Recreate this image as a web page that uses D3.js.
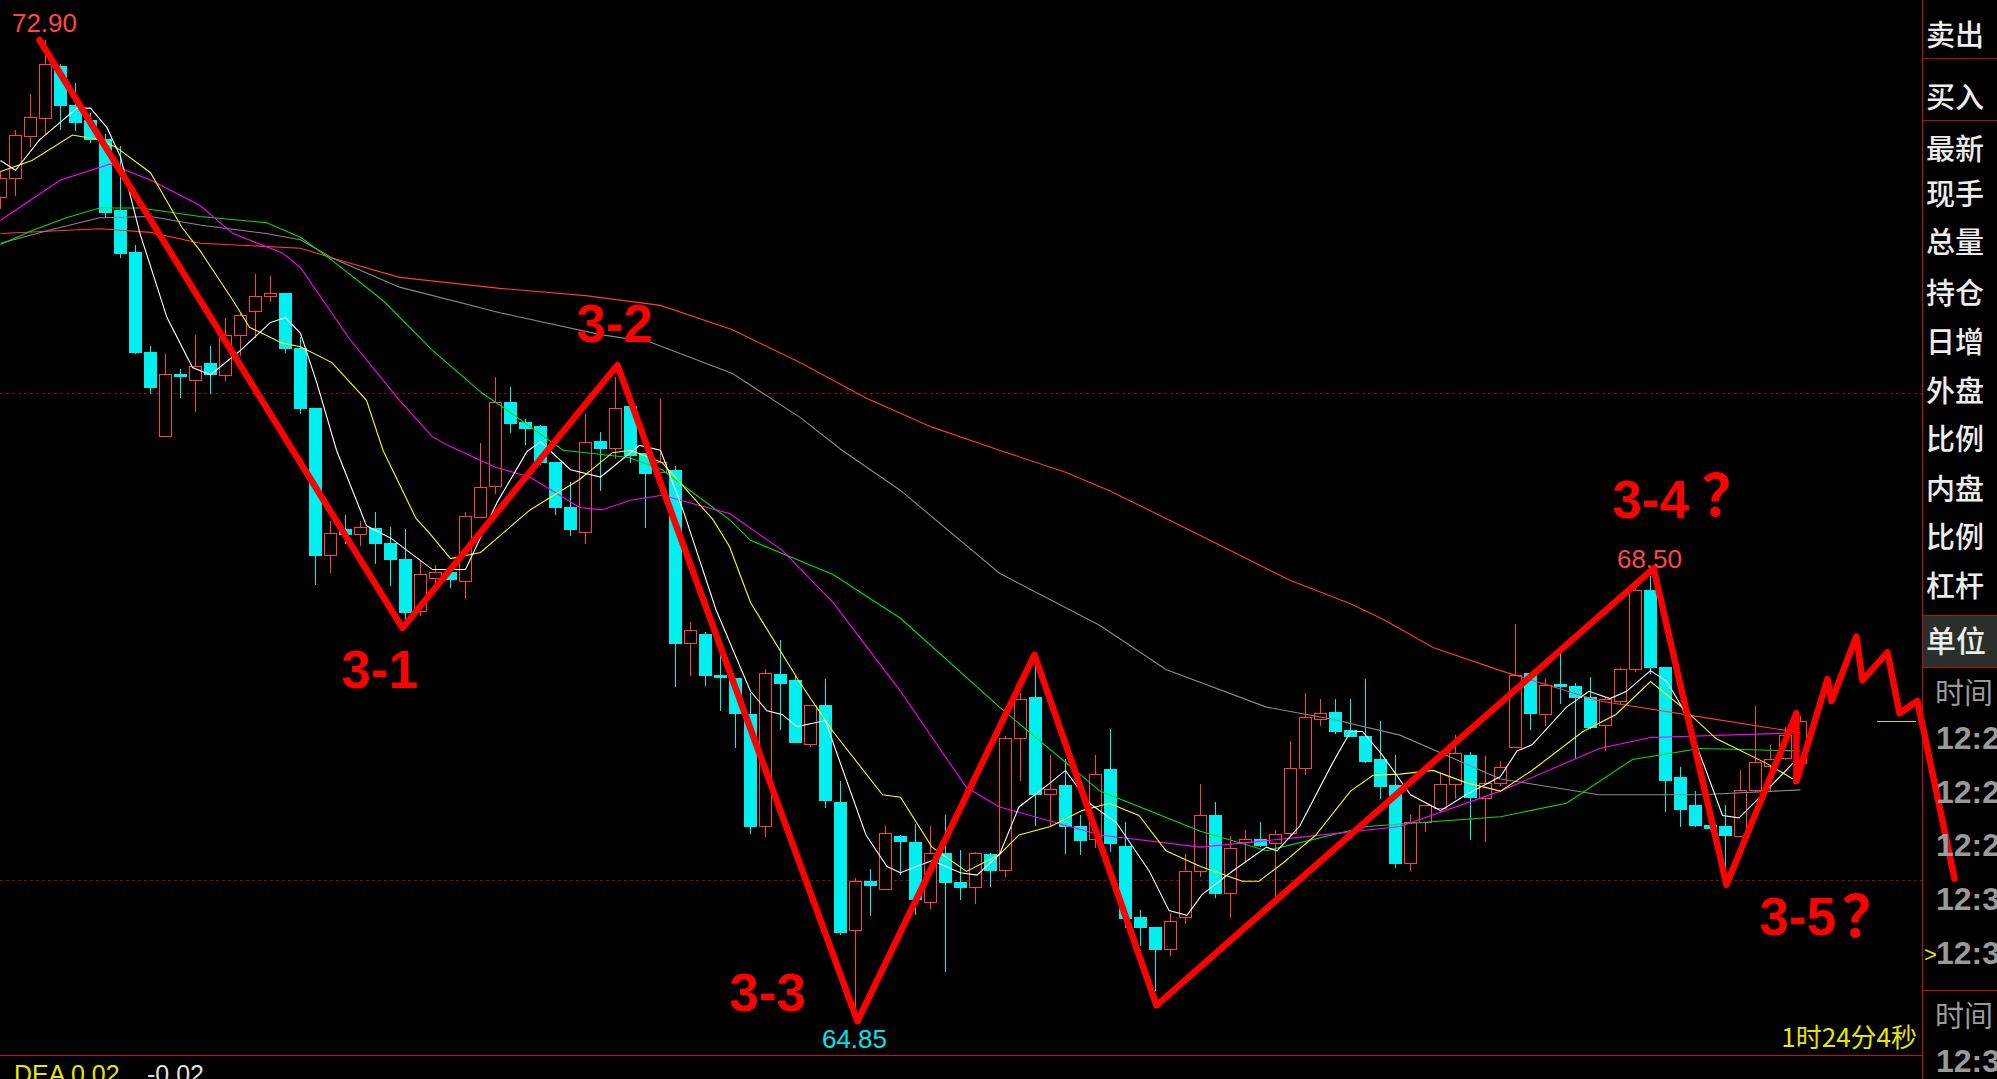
<!DOCTYPE html>
<html><head><meta charset="utf-8">
<script src="https://cdn.jsdelivr.net/npm/d3@7/dist/d3.min.js"></script>
<style>html,body{margin:0;padding:0;background:#000;overflow:hidden}</style>
</head><body>
<svg id="c" width="1997" height="1079" xmlns="http://www.w3.org/2000/svg"></svg>
<script>
// ---------------- DATA ----------------
const opens  = [71.61,71.77,72.11,72.26,72.69,72.37,72.24,72.09,71.50,71.16,70.34,69.65,70.16,70.11,70.25,70.15,70.48,70.67,70.80,70.82,
70.37,69.88,68.67,68.88,68.84,68.89,68.77,68.64,68.21,68.48,68.53,68.46,68.98,69.24,69.93,69.76,69.73,69.43,69.06,68.86,
69.61,69.55,69.89,69.51,69.35,69.37,67.95,68.02,67.68,67.66,67.36,66.44,67.69,67.64,67.12,67.44,66.64,65.59,65.99,65.93,
66.36,66.31,65.82,66.22,65.98,65.94,66.21,66.08,67.17,67.50,66.71,66.78,66.44,66.34,66.91,66.28,65.70,65.61,65.43,65.70,
66.07,66.53,65.89,66.31,66.34,66.30,66.39,66.92,67.32,67.38,67.23,67.18,66.99,66.78,66.14,66.48,66.59,66.79,67.03,66.67,
66.80,67.09,67.70,67.36,67.61,67.59,67.50,67.27,67.47,67.73,68.38,67.75,66.85,66.62,66.45,66.44,66.36,66.74,66.94,67.00,66.96];
const highs  = [71.82,72.16,72.46,72.90,72.70,72.55,72.30,72.13,72.03,71.22,70.39,70.32,70.20,70.48,70.39,70.62,70.66,70.98,70.96,70.82,
70.46,69.88,68.95,69.00,68.95,69.02,68.90,68.88,68.63,68.59,68.55,69.02,69.59,70.13,70.05,69.79,69.74,69.43,69.27,69.83,
69.68,70.13,69.94,69.51,69.95,69.40,68.12,68.04,67.85,67.66,67.54,67.73,67.97,67.68,67.44,67.65,66.81,66.02,66.09,66.44,
66.37,66.46,66.44,66.53,66.25,66.23,66.22,67.18,67.54,67.80,67.03,66.99,66.53,67.03,67.24,66.48,65.75,65.61,65.73,66.21,
66.79,66.64,66.36,66.41,66.48,66.41,67.14,67.54,67.49,67.49,67.49,67.65,67.31,67.03,66.53,66.62,66.87,67.19,67.05,67.02,
66.98,68.10,67.70,67.65,67.90,67.62,67.67,67.50,67.74,68.41,68.50,67.75,66.93,66.73,66.46,66.62,66.90,67.43,67.11,67.26,67.35];
const lows   = [71.52,71.63,72.03,72.14,72.17,72.16,72.06,71.45,71.12,70.33,70.00,69.65,69.97,69.85,70.00,70.11,70.31,70.46,70.76,70.34,
69.84,68.43,68.53,68.77,68.75,68.60,68.42,68.14,68.18,68.43,68.41,68.32,68.98,69.18,69.68,69.58,69.42,69.01,68.83,68.77,
69.20,69.47,69.43,68.90,69.35,67.59,67.68,67.60,67.40,67.09,66.39,66.36,67.24,67.13,67.10,66.60,65.56,64.85,65.71,65.93,
66.05,65.72,65.77,65.25,65.84,65.81,65.95,66.03,66.82,66.45,66.45,66.22,66.21,66.27,66.24,65.61,65.47,65.10,65.38,65.65,
66.03,65.86,65.70,66.16,66.28,65.86,66.38,66.87,67.27,67.21,67.18,66.97,66.67,66.11,66.08,66.40,66.59,66.67,66.34,66.32,
66.78,67.09,67.24,67.27,67.45,67.00,67.25,67.07,67.45,67.72,67.70,66.57,66.44,66.44,66.42,66.11,66.36,66.73,66.73,66.99,66.94];
const closes = [71.77,72.12,72.27,72.70,72.37,72.23,72.09,71.49,71.15,70.34,70.05,70.16,70.14,70.22,70.16,70.48,70.64,70.80,70.82,70.37,
69.88,68.67,68.85,68.84,68.90,68.77,68.64,68.20,68.51,68.53,68.47,68.99,69.23,69.93,69.75,69.71,69.43,69.06,68.88,69.60,
69.55,69.88,69.49,69.34,69.43,67.95,68.05,67.68,67.67,67.37,66.44,67.70,67.62,67.13,67.44,66.66,65.57,65.99,65.96,66.39,
66.32,65.84,66.22,65.98,65.94,66.22,66.08,67.17,67.49,66.71,66.75,66.44,66.33,66.87,66.30,65.69,65.61,65.43,65.66,66.07,
66.53,65.89,66.26,66.34,66.29,66.38,66.92,67.34,67.37,67.22,67.18,66.98,66.77,66.14,66.48,66.62,66.79,67.04,66.68,66.80,
66.93,67.68,67.37,67.60,67.59,67.50,67.26,67.49,67.73,68.38,67.75,66.82,66.58,66.45,66.43,66.37,66.74,66.97,66.99,67.19,67.31];

// moving-average readings: [candle position, price]
const maWhite = [[0,71.91],[1,71.83],[2.6,72.08],[5.1,72.34],[6,72.34],[7.1,72.18],[8,71.94],[9.3,71.31],[11.1,70.62],[12.8,70.21],[14,70.15],[16,70.35],[18,70.58],[19,70.62],[20,70.49],[21.1,70.08],[22.4,69.53],[24.4,68.91],[26,68.81],[28.8,68.55],[31,68.55],[33.1,69.10],[35.1,69.52],[36,69.60],[38,69.37],[40,69.31],[42.6,69.57],[44,69.53],[45.5,69.04],[47.7,68.22],[50,67.55],[51.1,67.39],[52.1,67.36],[53.1,67.26],[55,67.31],[55.7,67.06],[57.7,66.37],[59.1,66.11],[60,66.06],[62.1,66.16],[64,66.06],[65.1,66.04],[66.6,66.21],[67.9,66.60],[70,66.80],[71,66.90],[72.6,66.63],[74.4,66.47],[76.6,66.07],[77.9,65.75],[79.1,65.71],[80.1,65.88],[82.1,66.07],[84.4,66.27],[85.1,66.24],[86.6,66.44],[88.8,66.96],[90,67.22],[90.8,67.22],[92.1,67.03],[94,66.70],[96,66.57],[97.7,66.70],[100,66.85],[101.1,67.06],[102.1,67.11],[104.4,67.42],[105.9,67.55],[107.3,67.49],[108.4,67.55],[110,67.72],[111.1,67.63],[112.1,67.42],[113.7,66.90],[114.8,66.53],[115.9,66.51],[117.7,66.73],[119.5,66.96]];
const maYellow = [[0,71.82],[2.1,71.91],[4.8,72.12],[6.6,72.08],[7.7,72.02],[10,71.81],[12.1,71.36],[13.3,71.17],[15.5,70.76],[16.6,70.54],[18.8,70.41],[20,70.38],[22.1,70.25],[24.4,69.94],[25.5,69.53],[27.7,68.97],[28.6,68.85],[30,68.64],[32,68.69],[35.3,69.04],[38.6,69.29],[40.8,69.51],[42,69.53],[44.1,69.43],[47.5,68.96],[48.6,68.74],[50,68.28],[53.3,67.62],[55.5,67.22],[58.8,66.70],[60,66.68],[62.1,66.27],[64.4,66.07],[66.6,66.21],[67.9,66.37],[70,66.44],[72.1,66.57],[73.9,66.63],[75.9,66.53],[77.7,66.24],[80,66.11],[82.8,65.99],[83.9,65.99],[85.5,66.14],[87.7,66.37],[90,66.73],[91.5,66.86],[93.3,66.87],[95.5,66.90],[97.7,66.80],[100,66.73],[102.1,66.90],[105.5,67.22],[107.7,67.36],[110,67.63],[112.1,67.42],[114.4,67.16],[117.7,66.96],[119.5,66.83]];
const maMagenta = [[0,71.42],[4,71.75],[7.3,71.88],[10,71.75],[13.3,71.54],[15.5,71.31],[18.8,71.15],[20,71.03],[23.3,70.44],[26.6,69.94],[28.8,69.64],[30,69.56],[33,69.39],[35.3,69.31],[38.6,69.06],[40.1,69.04],[42,69.12],[44.1,69.16],[48.6,69.01],[52.1,68.71],[55.5,68.28],[60,67.55],[64.4,66.76],[66.6,66.60],[73.3,66.37],[80,66.27],[86.6,66.35],[93.3,66.44],[100,66.73],[106.6,67.08],[110,67.17],[120,67.21]];
const maGreen = [[0,71.22],[2.2,71.34],[4.4,71.44],[6.6,71.52],[9.3,71.52],[13.3,71.45],[17.7,71.40],[20,71.28],[22.1,71.09],[25.5,70.76],[28.8,70.35],[32.1,70.00],[33.3,69.90],[37.5,69.53],[41.9,69.47],[44.1,69.37],[48.6,68.96],[50,68.79],[55.5,68.51],[60,68.15],[66.6,67.42],[73.3,66.73],[80,66.40],[84.4,66.24],[91.1,66.44],[100,66.52],[104.4,66.63],[108.8,66.99],[113.3,67.08],[120,67.06]];
const maGray = [[0,71.23],[3.3,71.34],[6.6,71.44],[10,71.45],[13.3,71.38],[17.7,71.31],[20,71.26],[22.1,71.11],[26.6,70.87],[33.3,70.66],[40,70.48],[43.3,70.42],[48.8,70.16],[53.3,69.80],[56.1,69.53],[60,69.20],[66.6,68.52],[73.3,68.09],[77.7,67.73],[84.4,67.42],[88.8,67.32],[93.3,67.19],[100,66.83],[106.6,66.70],[113.3,66.70],[120,66.74]];
const maRed = [[0,71.31],[6.6,71.35],[10,71.32],[13.3,71.23],[20,71.19],[22.1,71.11],[26.6,70.95],[33.3,70.86],[39,70.80],[44,70.72],[48.8,70.52],[53.3,70.25],[57.7,69.96],[62.1,69.72],[66.6,69.53],[71,69.35],[73.9,69.20],[80,68.83],[86,68.46],[90,68.27],[92.2,68.14],[95.5,67.91],[100,67.72],[106.6,67.47],[113.3,67.34],[120,67.21]];

// hand-drawn wave annotation: [candle position, price]
const zigzag = [[2.6,72.90],[26.8,68.07],[41.13,70.23],[57.13,64.84],[68.93,67.85],[77.07,64.97],[110.2,68.56],[115.07,65.96],[119.73,67.37],[119.73,66.81],[121.8,67.65],[122.07,67.47],[123.73,68.00],[124.13,67.64],[125.8,67.87],[126.6,67.37],[127.8,67.47],[130.27,66.01]];
const waveLabels = ["3-1","3-2","3-3","3-4","3-5"];
const waveVertex = [1,2,3,6,7];          // zigzag vertex each label belongs to
const waveQuestion = [false,false,false,true,true];

const extremeLabels = ["72.90","64.85","68.50"];
const extremeIdx = [3,57,110];
const extremeType = ["high","low","high"];

const gridPrices = [70,66];

const panelItems = ["卖出","买入","最新","现手","总量","持仓","日增","外盘","比例","内盘","比例","杠杆"];
const timeItems = ["12:29","12:29","12:29","12:31","12:33"];
const timeItems2 = ["12:34"];
const macdTexts = ["DEA 0.02","-0.02"];
const countdown = "1时24分4秒";

// ---------------- DRAWING ----------------
const W = 1997, H = 1079;
const RED = "#ff4040", CYAN = "#00f0f0";
const svg = d3.select("#c");
svg.append("rect").attr("width", W).attr("height", H).attr("fill", "#000");

const x = d3.scaleLinear().domain([0, 128]).range([0.5, 1920.5]);
const y = d3.scaleLinear().domain([64.85, 72.90]).range([1020, 40]);

// dotted grid lines
svg.append("g").selectAll("line").data(gridPrices).join("line")
  .attr("x1", 0).attr("x2", 1922)
  .attr("y1", d => Math.round(y(d)) + 0.5).attr("y2", d => Math.round(y(d)) + 0.5)
  .attr("stroke", "#a00000").attr("stroke-width", 1).attr("stroke-dasharray", "3,3");

// bottom separator
svg.append("line").attr("x1", 0).attr("x2", 1922).attr("y1", 1055.5).attr("y2", 1055.5)
  .attr("stroke", "#c01010").attr("stroke-width", 1);

// candles
const candles = d3.range(opens.length).map(i => ({i, o: opens[i], h: highs[i], l: lows[i], c: closes[i]}));
const cg = svg.append("g").attr("shape-rendering", "crispEdges");
candles.forEach(d => {
  const px = Math.floor(x(d.i));
  const up = d.c >= d.o;
  const col = up ? RED : CYAN;
  const yt = Math.round(y(Math.max(d.o, d.c)));
  const yb = Math.round(y(Math.min(d.o, d.c)));
  const yh = Math.round(y(d.h)), yl = Math.round(y(d.l));
  if (up) {
    if (yt < yb - 1) {
      cg.append("line").attr("x1", px + 0.5).attr("x2", px + 0.5).attr("y1", yh).attr("y2", yt).attr("stroke", col);
      cg.append("line").attr("x1", px + 0.5).attr("x2", px + 0.5).attr("y1", yb + 1).attr("y2", yl + 1).attr("stroke", col);
      cg.append("rect").attr("x", px - 5.5).attr("y", yt + 0.5).attr("width", 12).attr("height", yb - yt)
        .attr("fill", "#000").attr("stroke", col).attr("stroke-width", 1);
    } else {
      cg.append("line").attr("x1", px + 0.5).attr("x2", px + 0.5).attr("y1", yh).attr("y2", yl + 1).attr("stroke", col);
      cg.append("rect").attr("x", px - 6).attr("y", yt).attr("width", 13).attr("height", Math.max(1, yb - yt + 1)).attr("fill", col);
    }
  } else {
    cg.append("line").attr("x1", px + 0.5).attr("x2", px + 0.5).attr("y1", yh).attr("y2", yl + 1).attr("stroke", col);
    cg.append("rect").attr("x", px - 6).attr("y", yt).attr("width", 13).attr("height", Math.max(1, yb - yt + 1)).attr("fill", col);
  }
});

// moving averages
const line = d3.line().x(d => x(d[0])).y(d => y(d[1]));
const mas = [
  [maRed, "#ff3a3a"], [maGray, "#8a8a8a"], [maGreen, "#00e000"],
  [maMagenta, "#ff00ff"], [maYellow, "#ffff00"], [maWhite, "#ffffff"]
];
svg.append("g").selectAll("path").data(mas).join("path")
  .attr("d", d => line(d[0])).attr("fill", "none").attr("stroke", d => d[1]).attr("stroke-width", 1.1);

// extreme price labels
svg.append("g").selectAll("text").data(extremeLabels).join("text")
  .attr("x", (d, k) => x(extremeIdx[k]) - 1)
  .attr("y", (d, k) => extremeType[k] === "high" ? y(highs[extremeIdx[k]]) - 8 : y(lows[extremeIdx[k]]) + 28)
  .attr("text-anchor", "middle")
  .attr("font-family", "'Liberation Sans', Arial, sans-serif").attr("font-size", 26)
  .attr("fill", (d, k) => extremeType[k] === "high" ? "#ff4646" : "#00e4ee")
  .text(d => d);

// zigzag annotation
svg.append("path").attr("d", line(zigzag)).attr("fill", "none")
  .attr("stroke", "#ff0000").attr("stroke-width", 6.5)
  .attr("stroke-linejoin", "round").attr("stroke-linecap", "round");

// wave labels (offsets from their vertex, in px)
const labelOffset = [[-61, 60], [-41, -23], [-128, -10], [-41, -50], [33, 50]];
const qOffset = [[0,0],[0,0],[0,0],[48, -52], [115, 52]];
const lg = svg.append("g");
waveLabels.forEach((t, k) => {
  const v = zigzag[waveVertex[k]];
  const vx = x(v[0]), vy = y(v[1]);
  lg.append("text").attr("x", vx + labelOffset[k][0]).attr("y", vy + labelOffset[k][1])
    .attr("font-family", "'Liberation Sans', Arial, sans-serif").attr("font-weight", "bold")
    .attr("font-size", 53).attr("fill", "#ff0000").text(t);
  if (waveQuestion[k]) {
    lg.append("text").attr("x", vx + qOffset[k][0]).attr("y", vy + qOffset[k][1])
      .attr("font-family", "'Noto Sans CJK SC', sans-serif").attr("font-weight", "bold")
      .attr("font-size", 58).attr("fill", "#ff0000").text("？");
  }
});

// bottom texts
svg.append("text").attr("x", 14).attr("y", 1083).attr("font-family", "'Liberation Sans', Arial, sans-serif")
  .attr("font-size", 25).attr("fill", "#e6e600").text(macdTexts[0]);
svg.append("text").attr("x", 147).attr("y", 1083).attr("font-family", "'Liberation Sans', Arial, sans-serif")
  .attr("font-size", 25).attr("fill", "#e0e0e0").text(macdTexts[1]);
svg.append("text").attr("x", 1917).attr("y", 1047).attr("text-anchor", "end")
  .attr("font-family", "'Noto Sans CJK SC', sans-serif").attr("font-size", 26).attr("fill", "#e6e600").text(countdown);

// current price marker line
svg.append("line").attr("x1", 1877).attr("x2", 1916).attr("y1", 721.5).attr("y2", 721.5)
  .attr("stroke", "#d8d800").attr("stroke-width", 1);

// right panel
const P = svg.append("g");
P.append("line").attr("x1", 1922.5).attr("x2", 1922.5).attr("y1", 0).attr("y2", H).attr("stroke", "#c01010");
[58.5, 120.5, 615.5, 667.5, 990.5].forEach(v =>
  P.append("line").attr("x1", 1923).attr("x2", W).attr("y1", v).attr("y2", v).attr("stroke", "#b01010"));
P.append("rect").attr("x", 1923).attr("y", 616).attr("width", 74).attr("height", 51).attr("fill", "#2b2f2b");
const rowY = [36, 98, 150, 195, 243, 294, 343, 392, 440, 490, 538, 587];
panelItems.forEach((t, k) => {
  P.append("text").attr("x", 1926).attr("y", rowY[k] + 10).attr("font-family", "'Noto Sans CJK SC', sans-serif")
    .attr("font-weight", 500).attr("font-size", 29).attr("fill", "#ececec").text(t);
});
P.append("text").attr("x", 1926).attr("y", 652).attr("font-family", "'Noto Sans CJK SC', sans-serif")
  .attr("font-weight", 500).attr("font-size", 30).attr("fill", "#ececec").text("单位");
[694, 1017].forEach(v => P.append("text").attr("x", 1935).attr("y", v + 10)
  .attr("font-family", "'Noto Sans CJK SC', sans-serif").attr("font-size", 29).attr("fill", "#9a9a9a").text("时间"));
const tY = [737, 791, 844, 898, 952];
timeItems.forEach((t, k) => P.append("text").attr("x", 1936).attr("y", tY[k] + 12)
  .attr("font-family", "'Liberation Sans', Arial, sans-serif").attr("font-weight", "bold")
  .attr("font-size", 32).attr("fill", "#9a9a9a").text(t));
timeItems2.forEach(t => P.append("text").attr("x", 1936).attr("y", 1072)
  .attr("font-family", "'Liberation Sans', Arial, sans-serif").attr("font-weight", "bold")
  .attr("font-size", 32).attr("fill", "#9a9a9a").text(t));
P.append("text").attr("x", 1924).attr("y", 962).attr("font-family", "'Liberation Sans', Arial, sans-serif")
  .attr("font-size", 22).attr("fill", "#e6e600").text(">");
</script>
</body></html>
